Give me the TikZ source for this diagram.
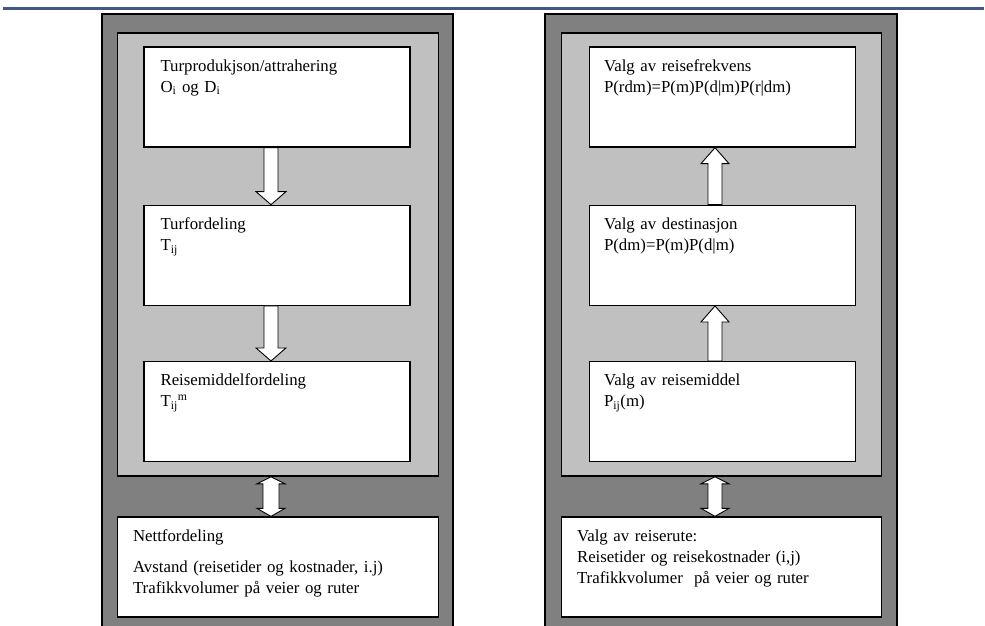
\documentclass[tikz,border=0pt]{standalone}
\usepackage{fontspec}
\setmainfont{Liberation Serif}
\usetikzlibrary{positioning,calc}

\definecolor{moerkgraa}{HTML}{808080}
\definecolor{lysgraa}{HTML}{C0C0C0}
\definecolor{linjeblaa}{HTML}{41578B}

\tikzset{
  ramme/.style={draw, rectangle, line width=1.6pt, inner sep=0pt},
  boks/.style={draw, rectangle, fill=white, line width=1.3pt, minimum width=266pt, minimum height=100pt, inner sep=0pt},
  tekst/.style={anchor=base west, inner sep=0pt, text width=290pt, align=left, font=\fontsize{16.8}{21}\selectfont},
  blokkpil/.style={draw, fill=white, line width=0.9pt, line join=miter}
}

\begin{document}
\begin{tikzpicture}[x=1pt, y=-1pt, node distance=57pt]
  \useasboundingbox (0,0) rectangle (985,626);
  \draw[linjeblaa, line width=3pt] (3,8.5) -- (984,8.5);

  \node[ramme, fill=moerkgraa, minimum width=351pt, minimum height=626pt] (ytrev) at (277.5,327) {};
  \node[ramme, fill=moerkgraa, minimum width=352pt, minimum height=626pt] (ytreh) at (721,327) {};
  \node[ramme, fill=lysgraa, minimum width=321pt, minimum height=443pt] (lysv) at (278,254.5) {};
  \node[ramme, fill=lysgraa, minimum width=320pt, minimum height=443pt] (lysh) at (721.5,254.5) {};

  \node[boks] (turprod) at (277,97) {};
  \node[boks, below=of turprod] (turford) {};
  \node[boks, below=55pt of turford] (reisemid) {};
  \node[boks, minimum width=321pt] (nettford) at (278,567) {};

  \node[boks] (valgfrek) at (722.5,97) {};
  \node[boks, below=of valgfrek] (valgdest) {};
  \node[boks, below=55pt of valgdest] (valgreise) {};
  \node[boks, minimum width=320pt] (valgrute) at (721.5,567) {};

  \node[tekst] (turprodtekst) at ($(turprod.north west)+(17,25)$) {Turprodukjson/attrahering\\O\textsubscript{i} og D\textsubscript{i}};
  \node[tekst] (turfordtekst) at ($(turford.north west)+(17,25)$) {Turfordeling\\T\textsubscript{ij}};
  \node[tekst] (reisemidtekst) at ($(reisemid.north west)+(17,25)$) {Reisemiddelfordeling\\T\textsubscript{ij}\textsuperscript{m}};
  \node[tekst] (nettfordtekst) at ($(nettford.north west)+(16,25)$) {Nettfordeling\\[10pt]Avstand (reisetider og kostnader, i.j)\\Trafikkvolumer på veier og ruter};

  \node[tekst] (valgfrektekst) at ($(valgfrek.north west)+(15,25)$) {Valg av reisefrekvens\\P(rdm)=P(m)P(d|m)P(r|dm)};
  \node[tekst] (valgdesttekst) at ($(valgdest.north west)+(15,25)$) {Valg av destinasjon\\P(dm)=P(m)P(d|m)};
  \node[tekst] (valgreisetekst) at ($(valgreise.north west)+(15,25)$) {Valg av reisemiddel\\P\textsubscript{ij}(m)};
  \node[tekst] (valgrutetekst) at ($(valgrute.north west)+(16,25)$) {Valg av reiserute:\\Reisetider og reisekostnader (i,j)\\Trafikkvolumer\ \ på veier og ruter};

  \draw[blokkpil] ($(turprod.south)+(-13,0)$) -- ($(turford.north)+(-13,-13)$) -- ++(-8,0) -- ($(turford.north)+(-6,0)$) -- ++(15,-13) -- ++(-8,0) -- ($(turprod.south)+(1,0)$) -- cycle;
  \draw[blokkpil] ($(turford.south)+(-13,0)$) -- ($(reisemid.north)+(-13,-13)$) -- ++(-8,0) -- ($(reisemid.north)+(-6,0)$) -- ++(15,-13) -- ++(-8,0) -- ($(turford.south)+(1,0)$) -- cycle;
  \draw[blokkpil] ($(lysv.south)+(-7,0)$) -- ++(14,7) -- ++(-6,0) -- ($(nettford.north)+(1,-8)$) -- ++(6,0) -- ($(nettford.north)+(-7,0)$) -- ++(-14,-8) -- ++(6,0) -- ($(lysv.south)+(-15,7)$) -- ++(-6,0) -- cycle;

  \draw[blokkpil] ($(valgdest.north)+(-14.5,0)$) -- ($(valgfrek.south)+(-14.5,16)$) -- ++(-7,0) -- ($(valgfrek.south)+(-7.5,0)$) -- ++(14,16) -- ++(-7,0) -- ($(valgdest.north)+(-0.5,0)$) -- cycle;
  \draw[blokkpil] ($(valgreise.north)+(-14.5,0)$) -- ($(valgdest.south)+(-14.5,16)$) -- ++(-7,0) -- ($(valgdest.south)+(-7.5,0)$) -- ++(14,16) -- ++(-7,0) -- ($(valgreise.north)+(-0.5,0)$) -- cycle;
  \draw[blokkpil] ($(lysh.south)+(-6.5,0)$) -- ++(14,7) -- ++(-7,0) -- ($(valgrute.north)+(0.5,-8)$) -- ++(7,0) -- ($(valgrute.north)+(-6.5,0)$) -- ++(-14,-8) -- ++(7,0) -- ($(lysh.south)+(-13.5,7)$) -- ++(-7,0) -- cycle;
\end{tikzpicture}
\end{document}
